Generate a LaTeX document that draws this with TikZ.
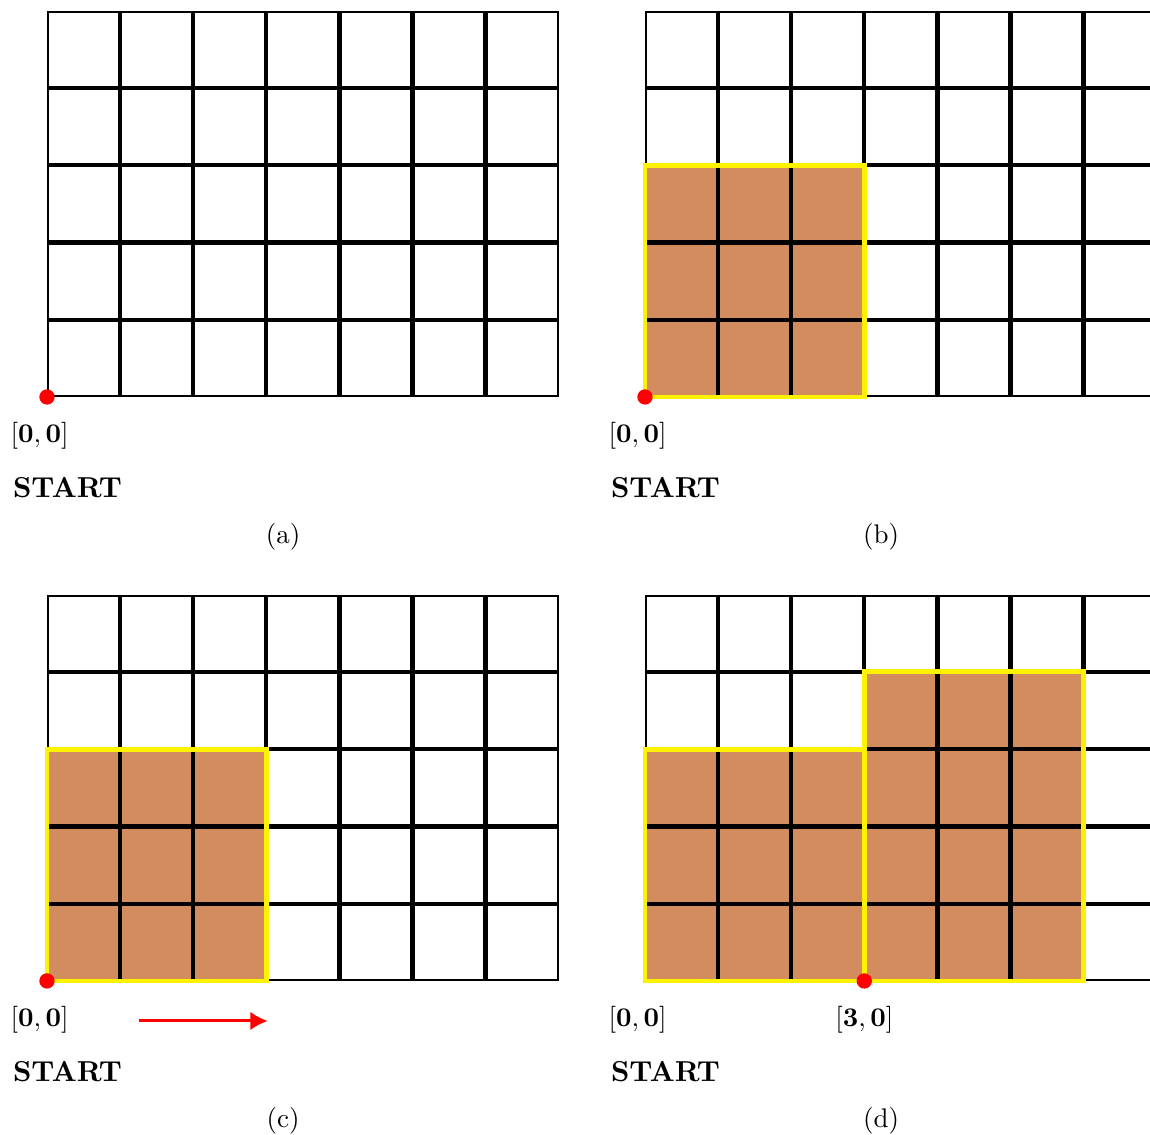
\documentclass[tikz,border=0pt]{standalone}
\usepackage{amsmath,amssymb}
\usepackage{xcolor}
\usetikzlibrary{arrows.meta}
\definecolor{clay}{RGB}{211,140,94}
\newcommand{\cellgrid}{%
  \foreach \i in {0,...,6}
    \foreach \j in {0,...,4}
      \draw[cellline] ([shift={(0.4pt,0.4pt)}]\i,\j) rectangle ([shift={(-0.4pt,-0.4pt)}]\i+1,\j+1);}

\begin{document}
\begin{tikzpicture}[cellline/.style={line width=0.8pt},
  region/.style={yellow,line width=1.8pt},
  startdot/.style={circle,fill=red,inner sep=0pt,minimum size=0.2cm},
  coordlbl/.style={inner sep=0pt},
  startlbl/.style={inner sep=0pt,anchor=base west,font=\fontsize{10.7}{13}\selectfont\bfseries},
  panel/.style={x=0.9535cm,y=1.008cm}]
\clip (0,0) rectangle (15,14.804);
% (a)
\begin{scope}[shift={(0.613cm,9.626cm)},panel]
\cellgrid
\node[startdot] (a-dot) at (0,0) {};
\node[coordlbl,anchor=west] (a-orig) at ([shift={(-0.48cm,-0.509cm)}]0,0) {$[\mathbf{0},\mathbf{0}]$};
\node[startlbl] (a-start) at ([shift={(-0.45cm,-1.317cm)}]0,0) {START};
\node (a-cap) at ([yshift=-1.826cm]3.23,0) {(a)};
\end{scope}
% (b)
\begin{scope}[shift={(8.413cm,9.626cm)},panel]
\fill[clay] (0,0) rectangle (3,3);
\cellgrid
\draw[region] (0,0) rectangle (3,3);
\node[startdot] (b-dot) at (0,0) {};
\node[coordlbl,anchor=west] (b-orig) at ([shift={(-0.48cm,-0.509cm)}]0,0) {$[\mathbf{0},\mathbf{0}]$};
\node[startlbl] (b-start) at ([shift={(-0.45cm,-1.317cm)}]0,0) {START};
\node (b-cap) at ([yshift=-1.826cm]3.23,0) {(b)};
\end{scope}
% (c)
\begin{scope}[shift={(0.613cm,2.009cm)},panel]
\fill[clay] (0,0) rectangle (3,3);
\cellgrid
\draw[region] (0,0) rectangle (3,3);
\node[startdot] (c-dot) at (0,0) {};
\node[coordlbl,anchor=west] (c-orig) at ([shift={(-0.48cm,-0.509cm)}]0,0) {$[\mathbf{0},\mathbf{0}]$};
\node[startlbl] (c-start) at ([shift={(-0.45cm,-1.317cm)}]0,0) {START};
\node (c-cap) at ([yshift=-1.826cm]3.23,0) {(c)};
\coordinate (c-tail) at ([yshift=-0.522cm]1.26,0);
\coordinate (c-head) at ([yshift=-0.522cm]3.02,0);
\draw[red,line width=1.1pt,-{Latex[length=6.5pt,width=7pt]}] (c-tail) -- (c-head);
\end{scope}
% (d)
\begin{scope}[shift={(8.413cm,2.009cm)},panel]
\fill[clay] (0,0) rectangle (3,3) (3,0) rectangle (6,4);
\cellgrid
\draw[region] (0,0) rectangle (3,3);
\draw[region] (3,0) rectangle (6,4);
\node[startdot] (d-dot) at (3,0) {};
\node[coordlbl,anchor=west] (d-orig) at ([shift={(-0.48cm,-0.509cm)}]0,0) {$[\mathbf{0},\mathbf{0}]$};
\node[coordlbl] (d-next) at ([yshift=-0.509cm]3,0) {$[\mathbf{3},\mathbf{0}]$};
\node[startlbl] (d-start) at ([shift={(-0.45cm,-1.317cm)}]0,0) {START};
\node (d-cap) at ([yshift=-1.826cm]3.23,0) {(d)};
\end{scope}
\end{tikzpicture}
\end{document}
